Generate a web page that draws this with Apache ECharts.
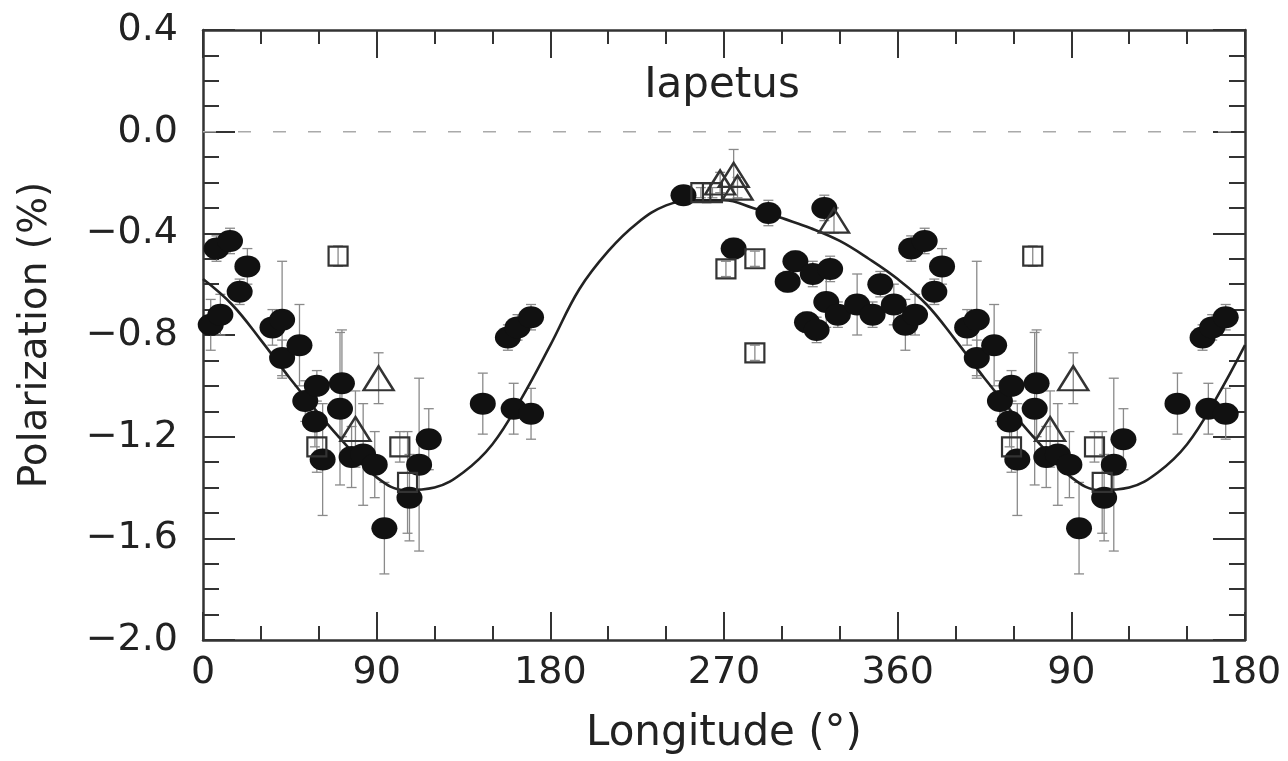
<!DOCTYPE html>
<html>
<head>
<meta charset="utf-8">
<script src="https://cdn.jsdelivr.net/npm/echarts@6/dist/echarts.min.js"></script>
<style>
html,body{margin:0;padding:0;background:#fff;}
#chart{width:1288px;height:761px;}
</style>
</head>
<body>
<div id="chart"></div>
<script>
// ---- tick labels ----
const xTickValues = [0, 90, 180, 270, 360, 450, 540];
const xTickLabels = ['0', '90', '180', '270', '360', '90', '180'];
const yTickValues = [-2.0, -1.6, -1.2, -0.8, -0.4, 0.0, 0.4];
const yTickLabels = ['\u22122.0', '\u22121.6', '\u22121.2', '\u22120.8', '\u22120.4', '0.0', '0.4'];

// ---- filled circles (first cycle, longitude in degrees) ----
const circleLon = [4, 9, 7, 14, 19, 23, 36, 41, 41, 50, 53, 59, 58, 62, 72, 71, 77, 83, 89, 94, 107, 112, 117, 145, 158, 163, 170, 161, 170,
                   249, 275, 293, 322, 307, 303, 316, 325, 323, 313, 318, 329, 339, 347, 351, 358];
const circleVal = [-0.76, -0.72, -0.46, -0.43, -0.63, -0.53, -0.77, -0.74, -0.89, -0.84, -1.06, -1.00, -1.14, -1.29, -0.99, -1.09, -1.28, -1.27, -1.31, -1.56, -1.44, -1.31, -1.21, -1.07, -0.81, -0.77, -0.73, -1.09, -1.11,
                   -0.25, -0.46, -0.32, -0.30, -0.51, -0.59, -0.56, -0.54, -0.67, -0.75, -0.78, -0.72, -0.68, -0.72, -0.60, -0.68];
const circleErr = [0.10, 0.08, 0.05, 0.05, 0.05, 0.07, 0.07, 0.23, 0.07, 0.16, 0.08, 0.06, 0.10, 0.22, 0.21, 0.30, 0.12, 0.20, 0.13, 0.18, 0.17, 0.34, 0.12, 0.12, 0.05, 0.05, 0.05, 0.10, 0.10,
                   0.03, 0.04, 0.05, 0.05, 0.04, 0.04, 0.05, 0.05, 0.10, 0.04, 0.05, 0.05, 0.12, 0.05, 0.05, 0.08];

// ---- open squares ----
const squareLon = [70, 59, 102, 106, 258, 264, 271, 286, 286];
const squareVal = [-0.49, -1.24, -1.24, -1.38, -0.24, -0.24, -0.54, -0.50, -0.87];
const squareErr = [0.04, 0.10, 0.06, 0.20, 0.02, 0.02, 0.03, 0.03, 0.03];

// ---- open triangles ----
const triLon = [91, 79, 268, 275, 277, 327];
const triVal = [-0.97, -1.17, -0.20, -0.17, -0.22, -0.35];
const triErr = [0.10, 0.15, 0.04, 0.10, 0.04, 0.05];

// ---- model curve (one full period) ----
const curveLon = [0, 15, 30, 45, 60, 75, 90, 105, 120, 135, 150, 165, 180, 195, 210, 225, 240, 255, 270, 285, 300, 315, 330, 345, 360];
const curveVal = [-0.58, -0.68, -0.82, -0.97, -1.11, -1.24, -1.36, -1.41, -1.40, -1.34, -1.23, -1.05, -0.84, -0.62, -0.47, -0.36, -0.29, -0.27, -0.27, -0.30, -0.34, -0.38, -0.43, -0.50, -0.58];

// ---- zero reference line ----
const zeroLon = [0, 540];
const zeroVal = [0, 0];

// The figure repeats longitudes 0-180 again after 360.
const REPEAT_LIMIT = 180;
const REPEAT_SHIFT = 360;

function buildPoints(lons, vals) {
  const out = [];
  lons.forEach((l, i) => {
    out.push([l, vals[i]]);
    if (l <= REPEAT_LIMIT) out.push([l + REPEAT_SHIFT, vals[i]]);
  });
  return out;
}
function buildErr(lons, vals, errs) {
  const out = [];
  lons.forEach((l, i) => {
    out.push([l, vals[i] - errs[i], vals[i] + errs[i]]);
    if (l <= REPEAT_LIMIT) out.push([l + REPEAT_SHIFT, vals[i] - errs[i], vals[i] + errs[i]]);
  });
  return out;
}
function buildCurve() {
  const out = curveLon.map((l, i) => [l, curveVal[i]]);
  curveLon.forEach((l, i) => {
    if (l > 0 && l <= REPEAT_LIMIT) out.push([l + REPEAT_SHIFT, curveVal[i]]);
  });
  return out;
}

const errData = []
  .concat(buildErr(circleLon, circleVal, circleErr))
  .concat(buildErr(squareLon, squareVal, squareErr))
  .concat(buildErr(triLon, triVal, triErr));

const FONT = 'DejaVu Sans';
const INK = '#222';
const AXIS = '#333';

function labelFor(values, labels, v) {
  for (let i = 0; i < values.length; i++) {
    if (Math.abs(values[i] - v) < 1e-6) return labels[i];
  }
  return '';
}

const tickStyle = {color: AXIS, width: 2};
const baseX = {
  type: 'value', min: 0, max: 540, interval: 90,
  splitLine: {show: false},
  axisLine: {onZero: false, lineStyle: {color: AXIS, width: 2.5}},
  axisTick: {inside: true, length: 28, lineStyle: tickStyle},
  minorTick: {show: true, splitNumber: 3, length: 14, lineStyle: tickStyle},
  minorSplitLine: {show: false}
};
const baseY = {
  type: 'value', min: -2.0, max: 0.4, interval: 0.4,
  splitLine: {show: false},
  axisLine: {onZero: false, lineStyle: {color: AXIS, width: 2.5}},
  axisTick: {inside: true, length: 32, lineStyle: tickStyle},
  minorTick: {show: true, splitNumber: 4, length: 16, lineStyle: tickStyle},
  minorSplitLine: {show: false}
};

const chart = echarts.init(document.getElementById('chart'), null, {renderer: 'canvas'});
chart.setOption({
  animation: false,
  backgroundColor: '#fff',
  grid: {left: 203, right: 43, top: 30, bottom: 121, containLabel: false},
  graphic: [{
    type: 'text', x: 722, y: 86, z: 10,
    style: {text: 'Iapetus', fill: INK, font: '42px "DejaVu Sans"', align: 'center', verticalAlign: 'middle'}
  }],
  xAxis: [
    Object.assign({}, baseX, {
      position: 'bottom',
      axisLabel: {fontSize: 38, fontFamily: FONT, color: INK, margin: 14,
        formatter: v => labelFor(xTickValues, xTickLabels, v)},
      name: 'Longitude (\u00B0)', nameLocation: 'middle', nameGap: 73,
      nameTextStyle: {fontSize: 42, fontFamily: FONT, color: INK}
    }),
    Object.assign({}, baseX, {position: 'top', axisLabel: {show: false}})
  ],
  yAxis: [
    Object.assign({}, baseY, {
      position: 'left',
      axisLabel: {fontSize: 38, fontFamily: FONT, color: INK, margin: 25,
        formatter: v => labelFor(yTickValues, yTickLabels, v)},
      name: 'Polarization (%)', nameLocation: 'middle', nameRotate: 90, nameGap: 148,
      nameTextStyle: {fontSize: 39, fontFamily: FONT, color: INK}
    }),
    Object.assign({}, baseY, {position: 'right', axisLabel: {show: false}})
  ],
  series: [
    {
      type: 'line', name: 'zero', xAxisIndex: 0, yAxisIndex: 0,
      data: zeroLon.map((l, i) => [l, zeroVal[i]]),
      showSymbol: false, silent: true, z: 1,
      lineStyle: {color: '#aaa', width: 1.5, type: [13, 22]}
    },
    {
      type: 'custom', name: 'errors', xAxisIndex: 0, yAxisIndex: 0, z: 2, clip: true,
      data: errData,
      renderItem: function (params, api) {
        const x = api.value(0);
        const lo = api.coord([x, api.value(1)]);
        const hi = api.coord([x, api.value(2)]);
        const w = 5;
        const st = {stroke: '#8a8a8a', lineWidth: 1.3};
        return {type: 'group', children: [
          {type: 'line', shape: {x1: hi[0], y1: hi[1], x2: lo[0], y2: lo[1]}, style: st},
          {type: 'line', shape: {x1: hi[0] - w, y1: hi[1], x2: hi[0] + w, y2: hi[1]}, style: st},
          {type: 'line', shape: {x1: lo[0] - w, y1: lo[1], x2: lo[0] + w, y2: lo[1]}, style: st}
        ]};
      }
    },
    {
      type: 'line', name: 'model', xAxisIndex: 0, yAxisIndex: 0,
      data: buildCurve(), smooth: 0.4, showSymbol: false, z: 3,
      lineStyle: {color: '#222', width: 2.6}
    },
    {
      type: 'scatter', name: 'circles', xAxisIndex: 0, yAxisIndex: 0, z: 4,
      data: buildPoints(circleLon, circleVal),
      symbol: 'path://M0,11 A13,11 0 1 1 26,11 A13,11 0 1 1 0,11 Z',
      symbolSize: [26, 22],
      itemStyle: {color: '#111', opacity: 1}
    },
    {
      type: 'scatter', name: 'squares', xAxisIndex: 0, yAxisIndex: 0, z: 5,
      data: buildPoints(squareLon, squareVal),
      symbol: 'rect', symbolSize: [19, 19],
      itemStyle: {color: 'rgba(255,255,255,0)', borderColor: '#333', borderWidth: 2.2, opacity: 1}
    },
    {
      type: 'scatter', name: 'triangles', xAxisIndex: 0, yAxisIndex: 0, z: 5,
      data: buildPoints(triLon, triVal),
      symbol: 'triangle', symbolSize: [30, 24],
      itemStyle: {color: 'rgba(255,255,255,0)', borderColor: '#333', borderWidth: 2.4, opacity: 1}
    }
  ]
});
</script>
</body>
</html>
